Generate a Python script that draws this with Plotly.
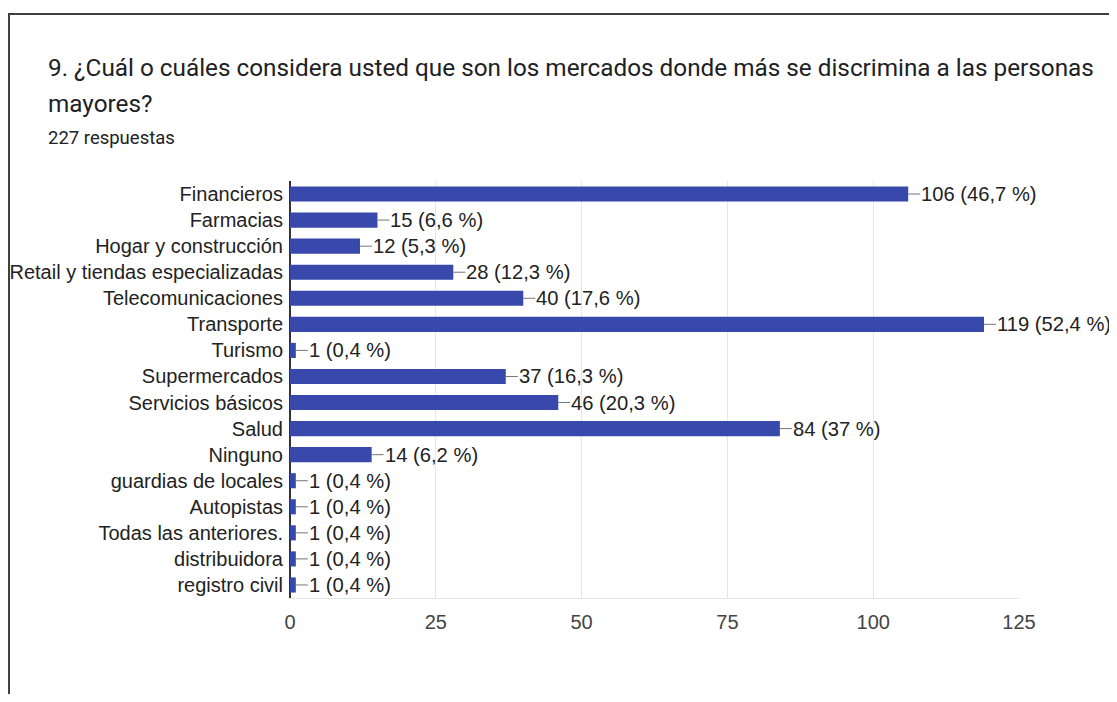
import plotly.graph_objects as go

categories = ["Financieros", "Farmacias", "Hogar y construcción", "Retail y tiendas especializadas",
              "Telecomunicaciones", "Transporte", "Turismo", "Supermercados", "Servicios básicos",
              "Salud", "Ninguno", "guardias de locales", "Autopistas", "Todas las anteriores.",
              "distribuidora", "registro civil"]
values = [106, 15, 12, 28, 40, 119, 1, 37, 46, 84, 14, 1, 1, 1, 1, 1]
percents = ["46,7", "6,6", "5,3", "12,3", "17,6", "52,4", "0,4", "16,3", "20,3", "37", "6,2",
            "0,4", "0,4", "0,4", "0,4", "0,4"]
tick_vals = [0, 25, 50, 75, 100, 125]

OFF = 8  # page body margin
W, H = 1117 - OFF, 702 - 2 * OFF
L, R, T, B = 290, 1019, 181, 598  # target page coordinates of plot area

def px(x):
    return (x - L) / (R - L)

def py(y):
    return (B - y) / (B - T)

fig = go.Figure()
fig.add_trace(go.Bar(
    x=values, y=categories, orientation="h",
    marker=dict(color="#3949ab", line=dict(width=0)),
    hoverinfo="skip",
))

annotations = []
for c, v, p in zip(categories, values, percents):
    annotations.append(dict(
        x=v, y=c, xref="x", yref="y",
        text=f"{v} ({p} %)", showarrow=True, arrowhead=0, arrowwidth=1,
        arrowcolor="#757575", ax=12, ay=0, xanchor="left", yanchor="middle",
        font=dict(family="Liberation Sans, Arial", size=20.2, color="#222222"),
        borderpad=0,
    ))

title_font = "Roboto, Arial"
annotations += [
    dict(xref="paper", yref="paper", x=px(46), y=py(68), xanchor="left", yanchor="middle",
         text="9. ¿Cuál o cuáles considera usted que son los mercados donde más se discrimina a las personas",
         showarrow=False, font=dict(family=title_font, size=24.3, color="#202124")),
    dict(xref="paper", yref="paper", x=px(46), y=py(103), xanchor="left", yanchor="middle",
         text="mayores?", showarrow=False, font=dict(family=title_font, size=24.3, color="#202124")),
    dict(xref="paper", yref="paper", x=px(46), y=py(138), xanchor="left", yanchor="middle",
         text="227 respuestas", showarrow=False, font=dict(family=title_font, size=18.5, color="#202124")),
]

frame = dict(color="#404040", width=2)
fig.update_layout(
    width=W, height=H,
    margin=dict(l=L - OFF, r=W - (R - OFF), t=T - OFF, b=H - (B - OFF), pad=0, autoexpand=False),
    paper_bgcolor="white", plot_bgcolor="white",
    showlegend=False,
    bargap=0.42,
    annotations=annotations,
    shapes=[
        dict(type="line", xref="paper", yref="paper", x0=px(9), x1=px(1130), y0=py(14), y1=py(14),
             line=frame, layer="above"),
        dict(type="line", xref="paper", yref="paper", x0=px(9), x1=px(9), y0=py(13), y1=py(760),
             line=frame, layer="above"),
    ],
    xaxis=dict(range=[0, 125], tickvals=tick_vals, ticktext=[str(t) for t in tick_vals],
               showgrid=True, gridcolor="#e6e6e6", gridwidth=1,
               zeroline=True, zerolinecolor="#333333", zerolinewidth=2,
               showline=True, linecolor="#e6e6e6", linewidth=1,
               ticks="", ticklen=0, ticklabelstandoff=6, automargin=False,
               tickfont=dict(family="Liberation Sans, Arial", size=20, color="#444444"),
               fixedrange=True),
    yaxis=dict(categoryorder="array", categoryarray=categories, autorange="reversed",
               showgrid=False, zeroline=False, showline=False, ticks="",
               ticklabelstandoff=6, automargin=False,
               tickfont=dict(family="Liberation Sans, Arial", size=20, color="#222222"),
               fixedrange=True),
)

fig.write_html("out.html")
